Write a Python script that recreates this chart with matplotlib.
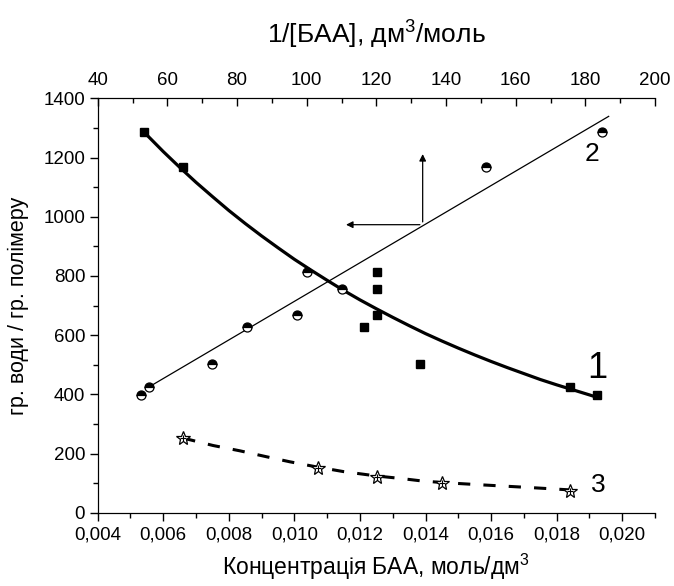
import matplotlib
matplotlib.use("Agg")
import matplotlib.pyplot as plt

plt.rcParams['font.family'] = ['Liberation Sans', 'DejaVu Sans']
plt.rcParams['mathtext.fontset'] = 'custom'
plt.rcParams['mathtext.rm'] = 'Liberation Sans'
plt.rcParams['mathtext.default'] = 'rm'

# Series 1: water uptake vs concentration (filled squares)
conc_1 = [0.00541, 0.00661, 0.01251, 0.01251, 0.01251, 0.01211, 0.01382, 0.01841, 0.01922]
uptake_1 = [1285, 1167, 812, 756, 667, 629, 503, 425, 398]
# Fitted curve 1
fit1_x = [0.0055, 0.0060, 0.0065, 0.0070, 0.0075, 0.0080, 0.0085, 0.0090, 0.0095, 0.0100,
          0.0105, 0.0110, 0.0115, 0.0120, 0.0125, 0.0130, 0.0135, 0.0140, 0.0145, 0.0150,
          0.0155, 0.0160, 0.0165, 0.0170, 0.0175, 0.0180, 0.0185, 0.0190, 0.0192]
fit1_y = [1276, 1220, 1167, 1116, 1068, 1021, 977, 935, 895, 856,
          820, 785, 751, 719, 689, 660, 632, 605, 580, 556,
          533, 511, 490, 470, 450, 432, 415, 398, 391]

# Series 2: water uptake vs 1/[BAA] (half-filled circles)
inv_2 = [52.4, 54.6, 72.7, 82.9, 97.1, 100.0, 110.0, 151.4, 184.9]
uptake_2 = [398, 424, 502, 629, 668, 812, 756, 1168, 1285]
# Linear fit line 2 (endpoints)
fit2_x = [54.6, 186.7]
fit2_y = [424, 1339]

# Series 3: stars
conc_3 = [0.00661, 0.01071, 0.01251, 0.01449, 0.01841]
uptake_3 = [252, 150, 122, 101, 74]
fit3_x = [0.00661, 0.00752, 0.00834, 0.00915, 0.00986, 0.01071, 0.01149, 0.01251, 0.01322,
          0.01383, 0.01449, 0.01556, 0.01718, 0.01841]
fit3_y = [252, 227, 209, 189, 172, 154, 139, 124, 116, 108, 102, 95, 85, 77]

bottom_ticks = [0.004, 0.006, 0.008, 0.010, 0.012, 0.014, 0.016, 0.018, 0.020]
bottom_labels = ['0,004', '0,006', '0,008', '0,010', '0,012', '0,014', '0,016', '0,018', '0,020']
top_ticks = [40, 60, 80, 100, 120, 140, 160, 180, 200]
y_ticks = [0, 200, 400, 600, 800, 1000, 1200, 1400]

fig = plt.figure(figsize=(6.74, 5.86), dpi=100)
ax = fig.add_axes([97.7 / 674, 1 - 512.7 / 586, (655 - 97.7) / 674, (512.7 - 98.3) / 586])

ax.set_xlim(0.004, 0.021)
ax.set_ylim(0, 1400)

ax.plot(fit1_x, fit1_y, color='black', lw=2.3, zorder=2, solid_capstyle='round')
ax.plot(conc_1, uptake_1, 's', color='black', ms=5.5, zorder=3)

ax.plot(fit3_x, fit3_y, color='black', lw=2.2, dashes=[4, 4.3], zorder=2)
ax.plot(conc_3, uptake_3, '*', ms=10, mfc='white', mec='black', mew=0.9, zorder=3)
ax.plot(conc_3, uptake_3, '+', ms=5, color='black', mew=0.8, zorder=4)

ax.set_xticks(bottom_ticks)
ax.set_xticklabels(bottom_labels)
ax.set_xticks([0.005 + 0.002 * i for i in range(9)], minor=True)
ax.set_yticks(y_ticks)
ax.set_yticks([100 + 200 * i for i in range(7)], minor=True)

ax.spines['right'].set_visible(False)
ax.tick_params(axis='both', which='both', direction='out', labelsize=13.5, width=1, color='black')
ax.tick_params(axis='both', which='major', length=6)
ax.tick_params(axis='both', which='minor', length=3.5)
ax.tick_params(axis='x', pad=4)
ax.tick_params(axis='y', pad=3)

ax.set_xlabel('Концентрація БАА, моль/дм$^{3}$', fontsize=16.5, labelpad=6)
ax.set_ylabel('гр. води / гр. полімеру', fontsize=15.5, labelpad=10)

ax2 = ax.twiny()
ax2.set_xlim(40, 200)
ax2.spines['right'].set_visible(False)
ax2.plot(fit2_x, fit2_y, color='black', lw=0.9, zorder=2)
ax2.plot(inv_2, uptake_2, 'o', ms=6.5, mfc='black', mfcalt='white', fillstyle='top',
         mec='black', mew=0.9, zorder=3)
ax2.set_xticks(top_ticks)
ax2.set_xticks([50 + 20 * i for i in range(8)], minor=True)
ax2.tick_params(axis='x', which='both', direction='in', labelsize=13.5, width=1, pad=7)
ax2.tick_params(axis='x', which='major', length=6)
ax2.tick_params(axis='x', which='minor', length=3.5)
ax2.set_xlabel('1/[БАА], дм$^{3}$/моль', fontsize=19, labelpad=20)

# arrows indicating axes for line 2
ax2.annotate('', xy=(110.5, 973), xytext=(133.3, 973),
             arrowprops=dict(arrowstyle='-|>', color='black', lw=0.9, mutation_scale=10))
ax2.annotate('', xy=(133.3, 1221), xytext=(133.3, 973),
             arrowprops=dict(arrowstyle='-|>', color='black', lw=0.9, mutation_scale=10))

ax2.text(181.9, 1213, '2', fontsize=19, ha='center', va='center')
ax.text(0.01925, 486, '1', fontsize=26, ha='center', va='center')
ax.text(0.01928, 94, '3', fontsize=19, ha='center', va='center')

fig.savefig('out.png', dpi=100)
